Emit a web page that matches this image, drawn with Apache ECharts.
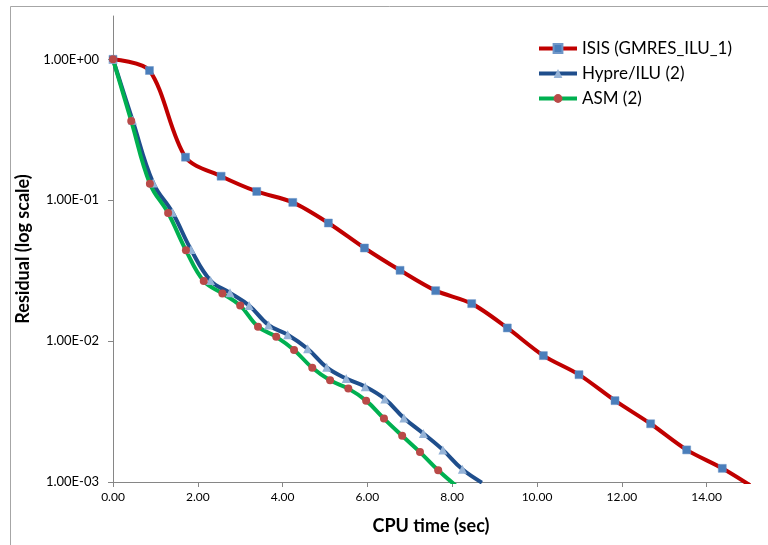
<!DOCTYPE html>
<html>
<head>
<meta charset="utf-8">
<script src="https://cdn.jsdelivr.net/npm/echarts@6/dist/echarts.min.js"></script>
<style>
html,body{margin:0;padding:0;background:#fff;}
#chart{width:768px;height:545px;}
</style>
</head>
<body>
<div id="chart"></div>
<script>
// ---- Data ----
var isisTime  = [0, 0.86, 1.71, 2.55, 3.39, 4.24, 5.08, 5.93, 6.77, 7.61, 8.46, 9.30, 10.15, 10.99, 11.84, 12.68, 13.53, 14.37, 15.22];
var isisRes   = [1.0, 0.833, 0.202, 0.148, 0.1154, 0.0965, 0.0689, 0.0458, 0.0318, 0.0228, 0.01845, 0.0124, 0.00789, 0.00578, 0.00378, 0.00259, 0.00169, 0.00125, 0.00087];

var hypreTime = [0, 0.46, 0.95, 1.40, 1.84, 2.30, 2.76, 3.21, 3.67, 4.12, 4.59, 5.04, 5.50, 5.95, 6.41, 6.86, 7.32, 7.78, 8.24, 8.70];
var hypreRes  = [1.0, 0.37, 0.1324, 0.0822, 0.0446, 0.0269, 0.0220, 0.0179, 0.0130, 0.0111, 0.00882, 0.00651, 0.00542, 0.00475, 0.00389, 0.00285, 0.00221, 0.00169, 0.00123, 0.00099];

var asmTime   = [0, 0.43, 0.87, 1.30, 1.72, 2.14, 2.58, 3.00, 3.42, 3.85, 4.27, 4.70, 5.12, 5.55, 5.97, 6.39, 6.82, 7.24, 7.67, 8.09];
var asmRes    = [1.0, 0.365, 0.131, 0.0811, 0.0441, 0.0267, 0.0218, 0.01786, 0.01267, 0.01072, 0.00866, 0.00646, 0.00527, 0.0046, 0.00378, 0.00282, 0.00213, 0.00163, 0.00121, 0.00094];

var seriesNames = ['ISIS (GMRES_ILU_1)', 'Hypre/ILU (2)', 'ASM (2)'];
var xTicks = [0, 2, 4, 6, 8, 10, 12, 14];
var yTicks = [0.001, 0.01, 0.1, 1];

function pairs(xs, ys) {
  var out = [];
  for (var i = 0; i < xs.length; i++) out.push([xs[i], ys[i]]);
  return out;
}
function expFmt(v) {
  var s = Number(v).toExponential(2);
  var m = s.split('e');
  var sign = m[1].charAt(0) === '-' ? '-' : '+';
  var e = Math.abs(parseInt(m[1], 10));
  return m[0] + 'E' + sign + (e < 10 ? '0' + e : '' + e);
}

var FONT = 'Lato';
var chart = echarts.init(document.getElementById('chart'), null, {renderer: 'canvas'});
chart.setOption({
  backgroundColor: '#ffffff',
  animation: false,
  textStyle: {fontFamily: FONT},
  graphic: [{
    type: 'rect', silent: true,
    shape: {x: 10.5, y: 6.5, width: 800, height: 600},
    style: {fill: 'none', stroke: '#a6a6a6', lineWidth: 1}
  }],
  grid: {left: 113, right: 19, top: 16, bottom: 63, containLabel: false, outerBoundsMode: 'none'},
  legend: {
    orient: 'vertical',
    left: 537, top: 40, padding: 0,
    itemWidth: 38, itemHeight: 11, itemGap: 8,
    lineStyle: {width: 4},
    textStyle: {fontFamily: FONT, fontSize: 17, color: '#000'},
    data: seriesNames
  },
  xAxis: {
    type: 'value', min: 0, max: 15,
    axisLine: {show: true, lineStyle: {color: '#868686', width: 1}},
    axisTick: {show: true, length: 5, customValues: xTicks, lineStyle: {color: '#868686'}},
    axisLabel: {customValues: xTicks, formatter: function (v) { return v.toFixed(2); },
                fontFamily: FONT, fontSize: 12, color: '#000', margin: 9},
    splitLine: {show: false},
    name: 'CPU time (sec)', nameLocation: 'middle', nameGap: 35,
    nameTextStyle: {fontFamily: FONT, fontSize: 18, fontWeight: 'bold', color: '#000'}
  },
  yAxis: {
    type: 'log', logBase: 10, min: 0.001, max: 2.03,
    axisLine: {show: true, lineStyle: {color: '#868686', width: 1}},
    axisTick: {show: true, length: 5, customValues: yTicks, lineStyle: {color: '#868686'}},
    axisLabel: {customValues: yTicks, formatter: expFmt,
                fontFamily: FONT, fontSize: 13, color: '#000', margin: 14},
    splitLine: {show: false},
    minorTick: {show: false},
    name: 'Residual (log scale)', nameLocation: 'middle', nameGap: 70, nameRotate: 90,
    nameTextStyle: {fontFamily: FONT, fontSize: 18, fontWeight: 'bold', color: '#000'}
  },
  series: [
    {
      name: seriesNames[0], type: 'line', smooth: 0.3, clip: true,
      data: pairs(isisTime, isisRes),
      symbol: 'rect', symbolSize: 8, showAllSymbol: true,
      lineStyle: {color: '#c00000', width: 4},
      itemStyle: {color: '#4a7ebb', borderColor: '#6f97c9', borderWidth: 0.5}
    },
    {
      name: seriesNames[1], type: 'line', smooth: 0.4, clip: true,
      data: pairs(hypreTime, hypreRes),
      symbol: 'triangle', symbolSize: 9, showAllSymbol: true,
      lineStyle: {color: '#1f4e8c', width: 4},
      itemStyle: {color: '#95b3d7'}
    },
    {
      name: seriesNames[2], type: 'line', smooth: 0.4, clip: true,
      data: pairs(asmTime, asmRes),
      symbol: 'circle', symbolSize: 8, showAllSymbol: true,
      lineStyle: {color: '#00b050', width: 4},
      itemStyle: {color: '#b94a48'}
    }
  ]
});
</script>
</body>
</html>
